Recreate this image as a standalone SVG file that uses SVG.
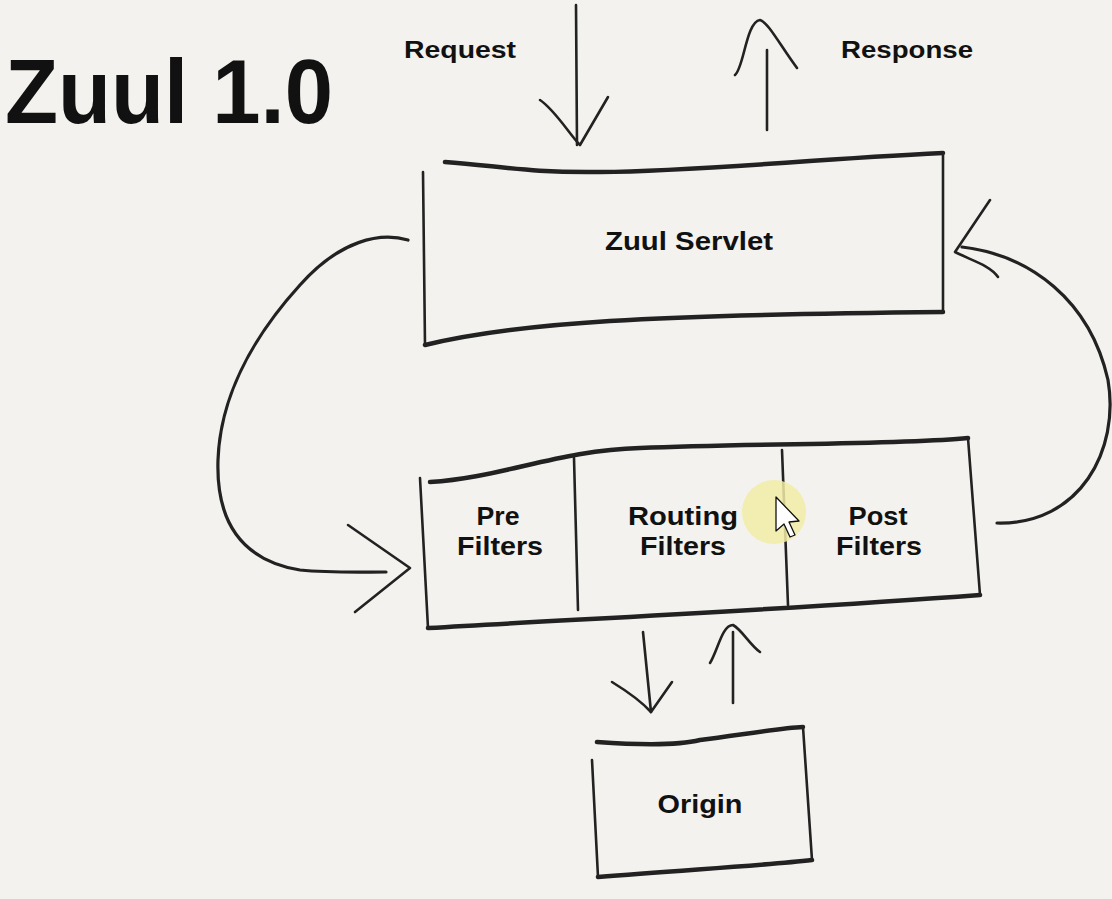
<svg xmlns="http://www.w3.org/2000/svg" width="1112" height="899" viewBox="0 0 1112 899">
  <style>
    .edge{fill:none;stroke:#222;stroke-linecap:round;stroke-linejoin:round}
    .thick{stroke-width:4.5}
    .side{stroke-width:2.6}
    .arr{fill:none;stroke:#222;stroke-width:2.6;stroke-linecap:round;stroke-linejoin:round}
    .lbl{font-family:"Liberation Sans",Arial,sans-serif;font-weight:bold;fill:#111;text-anchor:middle}
  </style>
  <rect x="0" y="0" width="1112" height="899" fill="#f4f2ee"/>

  <text id="title" x="5" y="123" font-family="Liberation Sans, Arial, sans-serif" font-weight="bold" font-size="90" fill="#111" textLength="328" lengthAdjust="spacingAndGlyphs">Zuul 1.0</text>
  <text class="lbl" x="460" y="58" font-size="23" textLength="112" lengthAdjust="spacingAndGlyphs">Request</text>
  <text class="lbl" x="907" y="58" font-size="23" textLength="132" lengthAdjust="spacingAndGlyphs">Response</text>

  <g id="zuul-servlet">
    <path class="edge thick" d="M445,162 C500,166 530,173 600,172 C700,171 800,160 943,153"/>
    <path class="edge side" d="M943,153 L943,312"/>
    <path class="edge thick" d="M425,345 C520,322 650,315 943,312"/>
    <path class="edge side" d="M423,172 L425,345"/>
    <text class="lbl" x="689" y="250" font-size="25" textLength="168" lengthAdjust="spacingAndGlyphs">Zuul Servlet</text>
  </g>

  <g id="filters">
    <path class="edge thick" d="M430,482 C500,478 560,450 640,448 C760,443 900,445 968,438"/>
    <path class="edge side" d="M968,438 L980,595"/>
    <path class="edge thick" d="M428,628 C600,618 780,610 980,595"/>
    <path class="edge side" d="M420,478 L428,628"/>
    <path class="edge side" d="M574,458 L578,610"/>
    <path class="edge side" d="M782,450 L788,605"/>
    <text class="lbl" x="498" y="525" font-size="25" textLength="43" lengthAdjust="spacingAndGlyphs">Pre</text>
    <text class="lbl" x="500" y="555" font-size="25" textLength="86" lengthAdjust="spacingAndGlyphs">Filters</text>
    <text class="lbl" x="683" y="525" font-size="25" textLength="110" lengthAdjust="spacingAndGlyphs">Routing</text>
    <text class="lbl" x="683" y="555" font-size="25" textLength="86" lengthAdjust="spacingAndGlyphs">Filters</text>
    <text class="lbl" x="878" y="525" font-size="25" textLength="59" lengthAdjust="spacingAndGlyphs">Post</text>
    <text class="lbl" x="879" y="555" font-size="25" textLength="86" lengthAdjust="spacingAndGlyphs">Filters</text>
  </g>

  <g id="origin">
    <path class="edge thick" d="M597,742 C640,745 680,745 700,740 C740,735 780,728 803,727"/>
    <path class="edge side" d="M803,727 L812,860"/>
    <path class="edge thick" d="M598,877 C680,870 760,866 812,860"/>
    <path class="edge side" d="M592,760 L598,877"/>
    <text class="lbl" x="700" y="813" font-size="25" textLength="85" lengthAdjust="spacingAndGlyphs">Origin</text>
  </g>

  <g id="connectors">
    <path class="arr" d="M576,5 L577,145"/>
    <path class="arr" d="M540,100 C555,110 570,135 580,145 L608,97"/>
    <path class="arr" d="M767,130 L767,50"/>
    <path class="arr" d="M735,75 C744,68 746,22 760,20 C768,22 780,45 797,68"/>
    <path class="arr" style="stroke-width:3.2" d="M408,240 C380,232 340,240 300,285 C250,340 220,400 218,460 C216,520 240,560 300,570 C330,573 360,572 386,572"/>
    <path class="arr" d="M348,525 L410,568 L355,612"/>
    <path class="arr" style="stroke-width:3.2" d="M962,247 C1030,255 1090,300 1108,380 C1120,450 1080,525 997,523"/>
    <path class="arr" d="M990,200 L955,252 C970,260 990,265 998,277"/>
    <path class="arr" d="M643,632 L651,712"/>
    <path class="arr" d="M612,682 C625,690 640,700 651,712 L672,682"/>
    <path class="arr" d="M733,703 L733,632"/>
    <path class="arr" d="M710,663 C718,650 722,625 733,625 C742,630 750,645 760,652"/>
  </g>

  <circle cx="774" cy="512" r="32" fill="#f1eca6" opacity="0.85"/>
  <path d="M776,497 L776,531 L784,524 L790,537 L795,535 L789,522 L799,521 Z" fill="#fff" stroke="#111" stroke-width="1.3" stroke-linejoin="round"/>
</svg>
